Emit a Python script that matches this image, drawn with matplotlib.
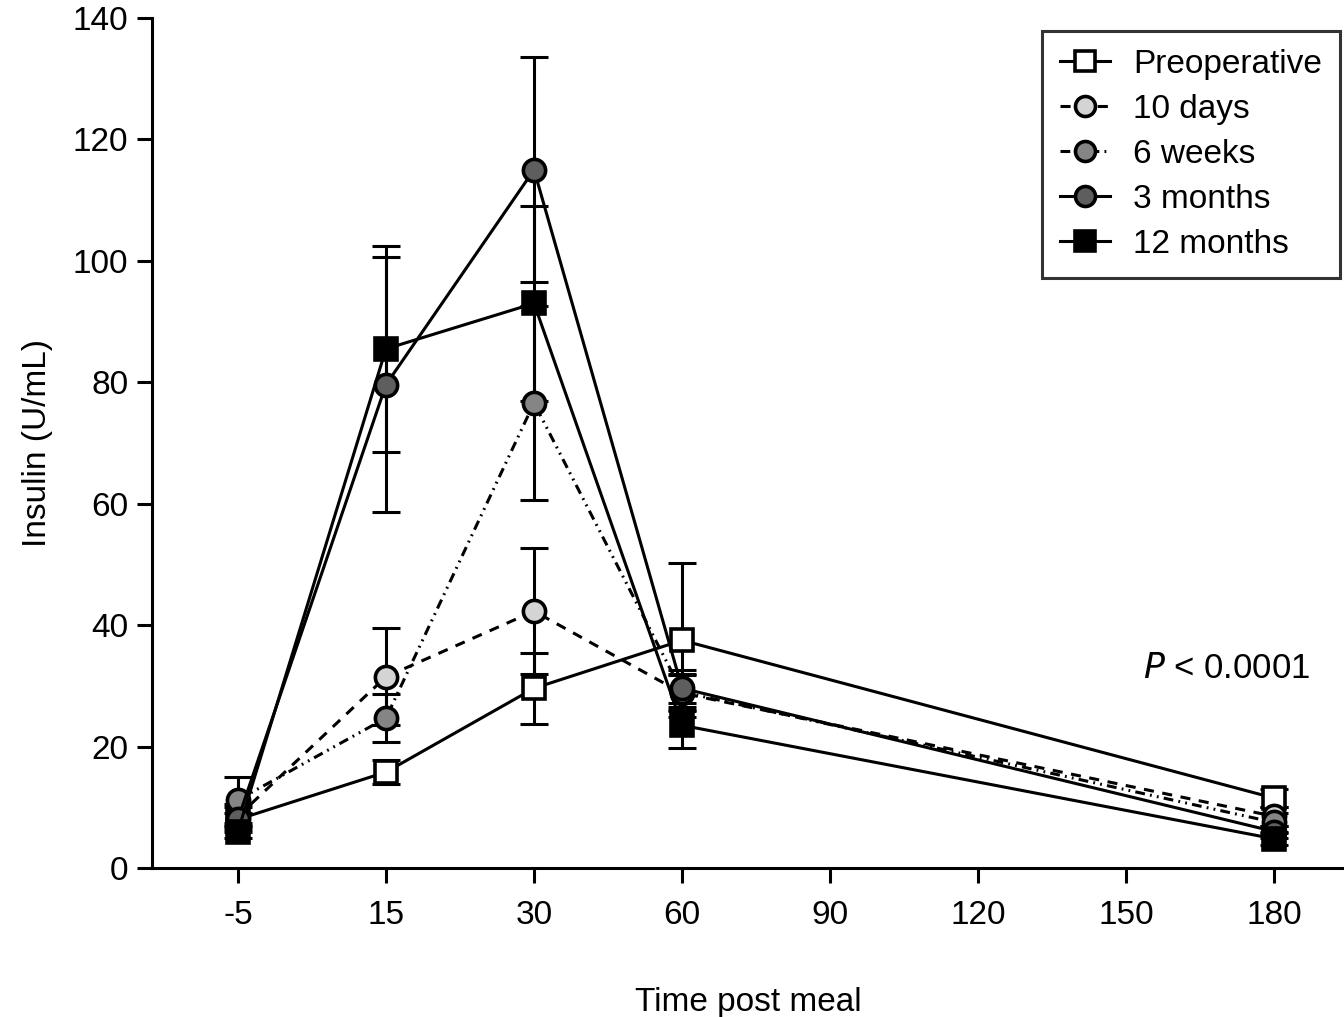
import numpy as np
import matplotlib
matplotlib.use("Agg")
import matplotlib.pyplot as plt

plt.rcParams["font.family"] = ["Liberation Sans", "DejaVu Sans"]

# ── Data ─────────────────────────────────────────────────────────────────────
TICK_LABELS = ["-5", "15", "30", "60", "90", "120", "150", "180"]
TIMES = ["-5", "15", "30", "60", "180"]

SERIES = ["Preoperative", "10 days", "6 weeks", "3 months", "12 months"]
PREOP = [8.0, 15.8, 29.6, 37.5, 11.5]
PREOP_ERR = [1.0, 2.0, 5.8, 12.7, 1.5]
DAYS10 = [8.5, 31.5, 42.3, 28.8, 8.5]
DAYS10_ERR = [2.0, 8.0, 10.4, 3.0, 1.5]
WEEKS6 = [11.2, 24.7, 76.6, 29.0, 7.5]
WEEKS6_ERR = [3.8, 4.0, 16.0, 3.0, 1.5]
MONTHS3 = [8.0, 79.6, 115.0, 29.6, 6.0]
MONTHS3_ERR = [2.0, 21.0, 18.5, 3.0, 1.0]
MONTHS12 = [6.0, 85.5, 93.0, 23.5, 4.8]
MONTHS12_ERR = [1.0, 17.0, 16.0, 3.7, 1.0]

STYLES = [
    dict(marker="s", mfc="white", ls="-"),
    dict(marker="o", mfc="#d4d4d4", ls=(0, (3.3, 2.8))),
    dict(marker="o", mfc="#858585", ls=(0, (3.2, 1.7, 0.6, 1.7, 0.6, 1.7))),
    dict(marker="o", mfc="#5e5e5e", ls="-"),
    dict(marker="s", mfc="black", ls="-"),
]

LW = 2.2
FS = 24


def main():
    fig = plt.figure(figsize=(13.44, 10.17), dpi=100)
    ax = fig.add_axes([152 / 1344, 1 - 868 / 1017, 1 - 152 / 1344, 850 / 1017])

    x = np.array([TICK_LABELS.index(t) for t in TIMES])
    values = [PREOP, DAYS10, WEEKS6, MONTHS3, MONTHS12]
    errors = [PREOP_ERR, DAYS10_ERR, WEEKS6_ERR, MONTHS3_ERR, MONTHS12_ERR]

    for name, vals, errs, st in zip(SERIES, values, errors, STYLES):
        ax.errorbar(x, vals, yerr=errs, fmt="none", ecolor="black",
                    elinewidth=LW, capsize=10, capthick=LW, zorder=2)
        ax.plot(x, vals, color="black", lw=LW, ls=st["ls"], marker=st["marker"],
                mfc=st["mfc"], mec="black", mew=2.6, ms=16, label=name,
                zorder=3)

    ax.set_xlim(-0.58, 7.47)
    ax.set_ylim(0, 140)
    ax.set_xticks(range(len(TICK_LABELS)))
    ax.set_xticklabels(TICK_LABELS)
    ax.set_yticks(range(0, 141, 20))
    ax.tick_params(axis="both", labelsize=FS, width=LW, length=11, pad=6)
    ax.tick_params(axis="x", pad=12)

    for side in ["top", "right"]:
        ax.spines[side].set_visible(False)
    for side in ["left", "bottom"]:
        ax.spines[side].set_linewidth(LW)

    ax.set_xlabel("Time post meal", fontsize=FS, labelpad=40)
    ax.set_ylabel("Insulin (U/mL)", fontsize=FS, labelpad=14)

    ax.text(0.972, 0.235, r"$\it{P}$ < 0.0001", transform=ax.transAxes,
            ha="right", va="center", fontsize=FS + 1)

    leg = ax.legend(loc="upper right", bbox_to_anchor=(0.997, 0.985),
                    fontsize=FS, frameon=True, fancybox=False,
                    handlelength=1.5, handletextpad=0.7, labelspacing=0.42,
                    borderpad=0.55, borderaxespad=0, markerscale=0.9)
    leg.get_frame().set_edgecolor("black")
    leg.get_frame().set_linewidth(LW)

    fig.savefig("out.png", dpi=100)
    plt.close(fig)


if __name__ == "__main__":
    main()
